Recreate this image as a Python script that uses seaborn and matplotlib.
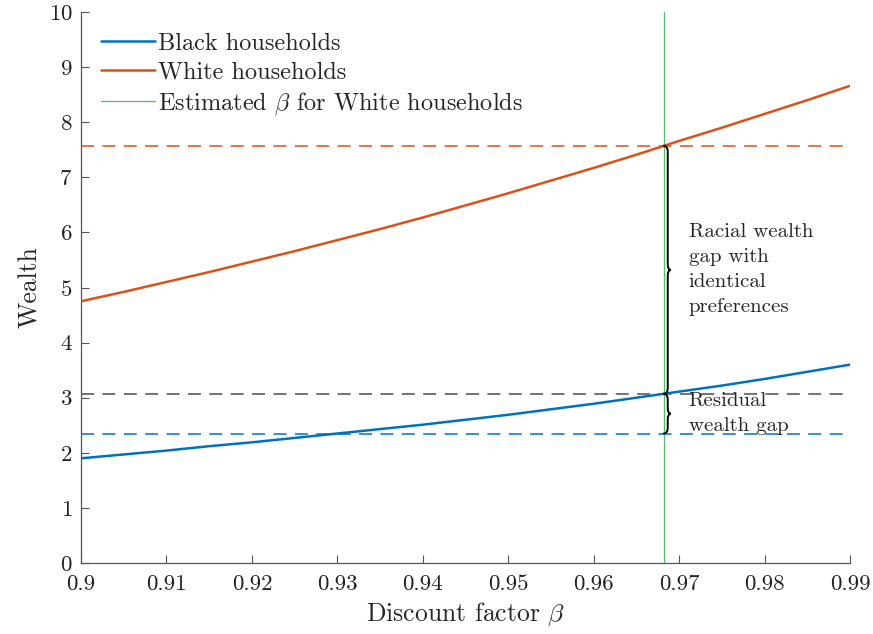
import numpy as np
import pandas as pd
import matplotlib
matplotlib.use("Agg")
import matplotlib.pyplot as plt
from matplotlib.path import Path
from matplotlib.patches import PathPatch
from matplotlib.lines import Line2D
import seaborn as sns

# Wealth as a function of the discount factor
beta = [0.900, 0.905, 0.910, 0.915, 0.920, 0.925, 0.930, 0.935, 0.940, 0.945,
        0.950, 0.955, 0.960, 0.965, 0.970, 0.975, 0.980, 0.985, 0.990]
wealth_black = [1.90, 1.97, 2.04, 2.12, 2.19, 2.27, 2.35, 2.43, 2.51, 2.60,
                2.69, 2.79, 2.89, 3.00, 3.11, 3.22, 3.34, 3.47, 3.60]
wealth_white = [4.75, 4.92, 5.10, 5.28, 5.47, 5.66, 5.86, 6.06, 6.27, 6.49,
                6.71, 6.94, 7.17, 7.41, 7.66, 7.90, 8.15, 8.40, 8.66]

beta_white_est = 0.9682       # estimated discount factor, White households
wealth_white_est = 7.57       # White wealth at the estimated beta
wealth_black_same_beta = 3.07 # Black wealth at the same beta
wealth_black_est = 2.35       # Black wealth at their own estimate

x_ticks = [0.90, 0.91, 0.92, 0.93, 0.94, 0.95, 0.96, 0.97, 0.98, 0.99]
x_tick_labels = ["0.9", "0.91", "0.92", "0.93", "0.94", "0.95", "0.96", "0.97", "0.98", "0.99"]
y_ticks = [0, 1, 2, 3, 4, 5, 6, 7, 8, 9, 10]

BLUE = "#0072BD"
ORANGE = "#D95319"
GREEN = "#55b96e"
GRAY = "#4d4d4d"

sns.set_style("ticks")
plt.rcParams["font.family"] = "serif"
plt.rcParams["font.serif"] = ["cmr10"]
plt.rcParams["mathtext.fontset"] = "cm"
plt.rcParams["axes.formatter.use_mathtext"] = True

fig = plt.figure(figsize=(8.73, 6.34), dpi=100)
ax = fig.add_axes([81 / 873, 1 - 563 / 634, (850 - 81) / 873, (563 - 12) / 634])

df = pd.DataFrame({
    "beta": beta * 2,
    "wealth": wealth_black + wealth_white,
    "group": ["Black households"] * len(beta) + ["White households"] * len(beta),
})

# Reference levels (dashed)
dash = (0, (8.5, 5.5))
ax.axhline(wealth_white_est, color=ORANGE, lw=1.1, ls=dash, zorder=1)
ax.axhline(wealth_black_same_beta, color=GRAY, lw=1.1, ls=dash, zorder=1)
ax.axhline(wealth_black_est, color=BLUE, lw=1.1, ls=dash, zorder=1)

sns.lineplot(data=df, x="beta", y="wealth", hue="group",
             palette={"Black households": BLUE, "White households": ORANGE},
             linewidth=1.8, legend=False, ax=ax, zorder=3)

ax.axvline(beta_white_est, color=GREEN, lw=0.9, zorder=2)

# Curly braces marking the two gaps
px_x = (0.99 - 0.90) / (850 - 81)
px_y = 10.0 / (563 - 12)


def brace(ax, x0, y_top, y_bot):
    xv = x0 + 4 * px_x
    xt = x0 + 7 * px_x
    r = 6 * px_y
    ym = 0.5 * (y_top + y_bot)
    verts = [
        (x0, y_top), (xv, y_top), (xv, y_top - r),
        (xv, ym + r),
        (xv, ym), (xt, ym),
        (xv, ym), (xv, ym - r),
        (xv, y_bot + r),
        (xv, y_bot), (x0, y_bot),
    ]
    codes = [Path.MOVETO, Path.CURVE3, Path.CURVE3,
             Path.LINETO,
             Path.CURVE3, Path.CURVE3,
             Path.CURVE3, Path.CURVE3,
             Path.LINETO,
             Path.CURVE3, Path.CURVE3]
    ax.add_patch(PathPatch(Path(verts, codes), fill=False, lw=1.4,
                           edgecolor="black", zorder=4, capstyle="round"))
    return ym


ym1 = brace(ax, beta_white_est, wealth_white_est, wealth_black_same_beta)
ym2 = brace(ax, beta_white_est, wealth_black_same_beta, wealth_black_est)

text_x = beta_white_est + 25 * px_x
ax.text(text_x, ym1, "Racial wealth\ngap with\nidentical\npreferences",
        fontsize=15, ha="left", va="center", linespacing=1.5, zorder=5)
ax.text(text_x, ym2, "Residual\nwealth gap",
        fontsize=15, ha="left", va="center", linespacing=1.5, zorder=5)

ax.set_xlim(0.90, 0.99)
ax.set_ylim(0, 10)
ax.set_xticks(x_ticks)
ax.set_xticklabels(x_tick_labels)
ax.set_yticks(y_ticks)
ax.set_xlabel(r"Discount factor $\beta$", fontsize=18.5, labelpad=5)
ax.set_ylabel("Wealth", fontsize=18.5, labelpad=5)

for side in ("top", "right"):
    ax.spines[side].set_visible(False)
for side in ("left", "bottom"):
    ax.spines[side].set_color("#555555")
    ax.spines[side].set_linewidth(0.9)
ax.tick_params(axis="both", direction="in", length=5.5, width=0.8,
               colors="#555555", labelcolor="#222222", labelsize=16.5)
ax.tick_params(axis="x", pad=8)
ax.tick_params(axis="y", pad=6)

handles = [
    Line2D([], [], color=BLUE, lw=1.8),
    Line2D([], [], color=ORANGE, lw=1.8),
    Line2D([], [], color=GREEN, lw=0.9),
]
labels = ["Black households", "White households", r"Estimated $\beta$ for White households"]
ax.legend(handles, labels, loc="upper left", frameon=False, fontsize=17.5,
          handlelength=2.25, handletextpad=0.1, labelspacing=0.27,
          borderaxespad=0.0, bbox_to_anchor=(0.013, 0.98))

fig.savefig("out.png", dpi=100)
